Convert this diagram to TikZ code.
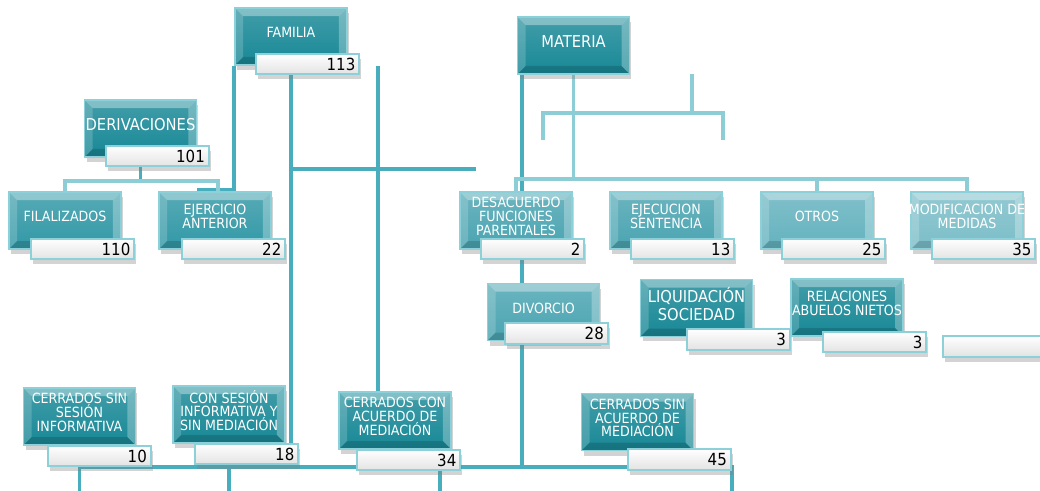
\documentclass[tikz,border=0pt]{standalone}
\usepackage{fontspec}
\setmainfont{DejaVu Sans Condensed}
\usepackage{tikz}
\usetikzlibrary{positioning,shadows,backgrounds}

\definecolor{tealD}{RGB}{24,136,150}
\definecolor{tealM}{RGB}{50,152,166}
\definecolor{tealS}{RGB}{74,164,177}
\definecolor{tealL}{RGB}{100,178,190}
\definecolor{lnkD}{RGB}{72,174,189}
\definecolor{lnkL}{RGB}{140,205,214}
\definecolor{rim}{RGB}{140,208,218}

\tikzset{
	catbox/.style={rectangle, minimum width=2.24cm, minimum height=1.14cm, inner sep=0pt,
		top color=#1!82!white, bottom color=#1, draw=rim, line width=0.8pt,
		drop shadow={shadow xshift=0.04cm, shadow yshift=-0.1cm, opacity=0.35},
		path picture={
			\path (path picture bounding box.north west) coordinate (pnw)
				(path picture bounding box.south east) coordinate (pse);
			\fill[white, opacity=0.35] (pnw) -- (pnw -| pse) -- ([shift={(-0.16cm,-0.16cm)}]pnw -| pse)
				-- ([shift={(0.16cm,-0.16cm)}]pnw) -- cycle;
			\fill[white, opacity=0.18] (pnw) -- ([shift={(0.16cm,-0.16cm)}]pnw)
				-- ([shift={(0.16cm,0.16cm)}]pnw |- pse) -- (pnw |- pse) -- cycle;
			\fill[white, opacity=0.28] (pnw -| pse) -- ([shift={(-0.16cm,-0.16cm)}]pnw -| pse)
				-- ([shift={(-0.16cm,0.16cm)}]pse) -- (pse) -- cycle;
			\fill[black, opacity=0.15] (pnw |- pse) -- ([shift={(0.16cm,0.16cm)}]pnw |- pse)
				-- ([shift={(-0.16cm,0.16cm)}]pse) -- (pse) -- cycle;
		}},
	catbox/.default=tealD,
	cattext/.style={text=white, align=center, font=\fontsize{8}{7.8}\selectfont, yshift=0.08cm},
	bigtext/.style={cattext, font=\fontsize{9.3}{9.8}\selectfont},
	numbox/.style={rectangle, anchor=north west, minimum width=2.06cm, minimum height=0.41cm,
		inner xsep=0.08cm, inner ysep=0pt, text width=1.9cm, align=right,
		top color=white, bottom color=gray!22, draw=rim, line width=1.2pt,
		font=\fontsize{9.5}{9.5}\selectfont,
		drop shadow={shadow xshift=0.04cm, shadow yshift=-0.1cm, opacity=0.35}},
	lnk/.style={draw=lnkD, line width=2.2pt},
	lnkL/.style={draw=lnkL, line width=2.2pt}
}

\begin{document}
\begin{tikzpicture}[x=0.02cm, y=-0.02cm]
	\useasboundingbox (0,0) rectangle (1040,490);

	% left tree
	\node[catbox, label={[cattext]center:FAMILIA}] (fam) at (291,36.5) {};
	\node[numbox] (famn) at ([xshift=0.42cm, yshift=0.26cm]fam.south west) {113};
	\node[catbox, label={[bigtext]center:DERIVACIONES}] (der) at (140.5,128.5) {};
	\node[numbox] (dern) at ([xshift=0.42cm, yshift=0.26cm]der.south west) {101};
	\node[catbox=tealM, label={[cattext]center:FILALIZADOS}] (fil) at (65,220.5) {};
	\node[numbox] (filn) at ([xshift=0.44cm, yshift=0.24cm]fil.south west) {110};
	\node[catbox=tealM, label={[cattext]center:{EJERCICIO\\ANTERIOR}}] (eje) at (215,220.5) {};
	\node[numbox] (ejen) at ([xshift=0.46cm, yshift=0.24cm]eje.south west) {22};

	% materia
	\node[catbox, label={[bigtext]center:MATERIA}] (mat) at (573.5,45.5) {};
	\node[catbox=tealS, label={[cattext]center:{DESACUERDO\\FUNCIONES\\PARENTALES}}] (des) at (516,220.5) {};
	\node[numbox] (desn) at ([xshift=0.42cm, yshift=0.24cm]des.south west) {2};
	\node[catbox=tealS, label={[cattext]center:{EJECUCION\\SENTENCIA}}] (ejs) at (666,220.5) {};
	\node[numbox] (ejsn) at ([xshift=0.42cm, yshift=0.24cm]ejs.south west) {13};
	\node[catbox=tealL, label={[cattext]center:OTROS}] (otr) at (817,220.5) {};
	\node[numbox] (otrn) at ([xshift=0.42cm, yshift=0.24cm]otr.south west) {25};
	\node[catbox=tealL!85!white, label={[cattext]center:{MODIFICACION DE\\MEDIDAS}}] (mod) at (967,220.5) {};
	\node[numbox] (modn) at ([xshift=0.42cm, yshift=0.24cm]mod.south west) {35};
	\node[catbox=tealS, label={[cattext]center:DIVORCIO}] (div) at (543.5,312) {};
	\node[numbox] (divn) at ([xshift=0.34cm, yshift=0.38cm]div.south west) {28};
	\node[catbox, label={[bigtext]center:{LIQUIDACIÓN\\SOCIEDAD}}] (liq) at (696.5,308) {};
	\node[numbox] (liqn) at ([xshift=0.92cm, yshift=0.18cm]liq.south west) {3};
	\node[catbox, label={[cattext]center:{RELACIONES\\ABUELOS NIETOS}}] (rel) at (847,307.5) {};
	\node[numbox] (reln) at ([xshift=0.64cm, yshift=0.12cm]rel.south west) {3};
	\node[numbox] (blank) at (942,335) {};

	% closed cases
	\node[catbox, label={[cattext]center:{CERRADOS SIN\\SESIÓN\\INFORMATIVA}}] (css) at (79.5,416.5) {};
	\node[numbox] (cssn) at ([xshift=0.48cm, yshift=0.02cm]css.south west) {10};
	\node[catbox, label={[cattext]center:{CON SESIÓN\\INFORMATIVA Y\\SIN MEDIACIÓN}}] (cse) at (229,414.5) {};
	\node[numbox] (csen) at ([xshift=0.44cm, yshift=0.02cm]cse.south west) {18};
	\node[catbox, label={[cattext]center:{CERRADOS CON\\ACUERDO DE\\MEDIACIÓN}}] (cca) at (395,420.5) {};
	\node[numbox] (ccan) at ([xshift=0.36cm, yshift=0.02cm]cca.south west) {34};
	\node[catbox, label={[cattext]center:{CERRADOS SIN\\ACUERDO DE\\MEDIACIÓN}}] (csa) at (637.5,422) {};
	\node[numbox] (csan) at ([xshift=0.92cm, yshift=0.06cm]csa.south west) {45};

	\coordinate (bus) at (79,467);
	\coordinate (ejestub) at (197,190);
	\coordinate (famarm) at (476,169);
	\coordinate (famtail) at (378,66);
	\coordinate (brtop) at (692,74);
	\coordinate (brl) at (543,140);
	\coordinate (brr) at (723,140);

	\begin{scope}[on background layer]
		\draw[lnk] (fam.south west) |- (ejestub);
		\draw[lnk] (fam.south) -- (fam.south |- bus);
		\draw[lnk] (fam.south |- famarm) -- (famarm);
		\draw[lnk] (famtail) -- (famtail |- cca.north);
		\draw[lnk] (der.south) -- ++(0,23) coordinate (derbar);
		\draw[lnkL] (derbar) -| (fil.north);
		\draw[lnkL] (derbar) -| ([xshift=0.06cm]eje.north);
		\draw[lnk] ([xshift=0.1cm]mat.south west) -- ([xshift=0.1cm]mat.south west |- bus);
		\draw[lnkL] (mat.south) -- ++(0,104) coordinate (matbar);
		\draw[lnkL] (des.north) |- (mod.north |- matbar) -- (mod.north);
		\draw[lnkL] (otr.north) -- (otr.north |- matbar);
		\draw[lnkL] (brtop) -- ++(0,39);
		\draw[lnkL] (brl) -- ++(0,-27) -| (brr);
		\draw[lnk] (css.south |- bus) -- (bus -| csan.east) -- ++(0,25);
		\foreach \n in {css,cse}
			\draw[lnk] (\n.south |- bus) -- ++(0,25);
		\draw[lnk] ([xshift=-0.42cm]ccan.south east |- bus) -- ++(0,25);
	\end{scope}
\end{tikzpicture}
\end{document}
